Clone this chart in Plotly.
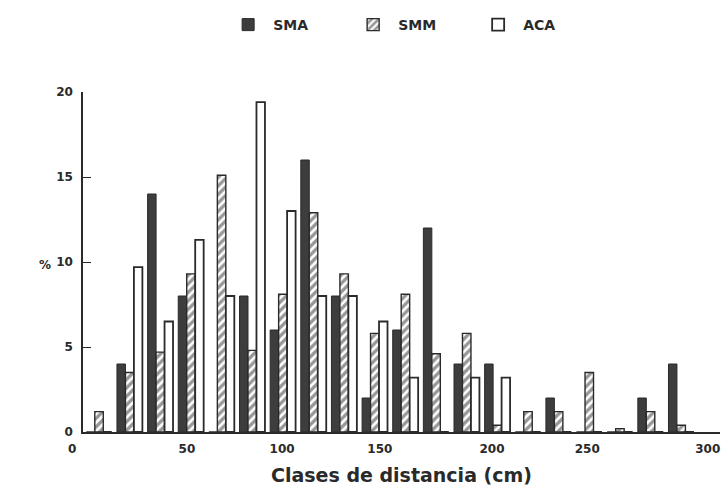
import plotly.graph_objects as go

# class centres (cm), 15 cm distance classes
clases = [15, 30, 45, 60, 75, 90, 105, 120, 135, 150,
          165, 180, 195, 210, 225, 240, 255, 270, 285, 300]

sma = [0, 4, 14, 8, 0, 8, 6, 16, 8, 2, 6, 12, 4, 4, 0, 2, 0, 0, 2, 4]
smm = [1.2, 3.5, 4.7, 9.3, 15.1, 4.8, 8.1, 12.9, 9.3, 5.8, 8.1, 4.6, 5.8, 0.4, 1.2, 1.2, 3.5, 0.2, 1.2, 0.4]
aca = [0, 9.7, 6.5, 11.3, 8, 19.4, 13, 8, 8, 6.5, 3.2, 0, 3.2, 3.2, 0, 0, 0, 0, 0, 0]

tick_vals = [58, 104.6, 152.5, 207.4, 254, 313]
tick_text = ["50", "100", "150", "200", "250", "300"]

FONT = "DejaVu Sans"
INK = "#2a2a2a"

fig = go.Figure()
fig.add_bar(x=clases, y=sma, name="SMA",
            marker=dict(color="#3d3d3d", line=dict(color=INK, width=1)))
fig.add_bar(x=clases, y=smm, name="SMM",
            marker=dict(color="white", line=dict(color=INK, width=1.4),
                        pattern=dict(shape="/", fgcolor="#2f2f2f", bgcolor="white",
                                     size=6, solidity=0.55)))
fig.add_bar(x=clases, y=aca, name="ACA",
            marker=dict(color="white", line=dict(color=INK, width=1.8)))

fig.update_layout(
    width=724, height=491,
    margin=dict(l=83, r=4, t=92, b=59),
    paper_bgcolor="white", plot_bgcolor="white",
    barmode="group", bargap=0.17, bargroupgap=0,
    font=dict(family=FONT, size=13, color=INK),
    showlegend=True,
    legend=dict(orientation="h", x=0.22, xanchor="left", y=1.197, yanchor="middle",
                font=dict(family=FONT, size=14, color=INK, weight="bold"),
                itemwidth=40, entrywidth=70, traceorder="normal"),
    xaxis=dict(range=[7.15, 319], showgrid=False, zeroline=False,
               showline=True, linecolor=INK, linewidth=1.5,
               tickmode="array", tickvals=tick_vals, ticktext=tick_text,
               ticks="", ticklabelstandoff=5,
               tickfont=dict(family=FONT, size=12, weight="bold", color=INK),
               title=dict(text="Clases de distancia (cm)", standoff=14,
                          font=dict(family=FONT, size=19, weight="bold", color=INK))),
    yaxis=dict(range=[0, 20], showgrid=False, zeroline=False,
               showline=True, linecolor=INK, linewidth=1.5,
               tickmode="array", tickvals=[0, 5, 10, 15, 20],
               ticks="inside", ticklen=8, tickcolor=INK, tickwidth=1.2,
               ticklabelstandoff=6,
               tickfont=dict(family=FONT, size=12, weight="bold", color=INK)),
)

fig.add_annotation(text="0", xref="paper", yref="paper", x=-0.017, y=-0.025,
                   xanchor="center", yanchor="top", showarrow=False,
                   font=dict(family=FONT, size=12, weight="bold", color=INK))
fig.add_annotation(text="%", xref="paper", yref="paper", x=-0.06, y=0.49,
                   xanchor="center", yanchor="middle", showarrow=False,
                   font=dict(family=FONT, size=12, weight="bold", color=INK))

fig.write_html("out.html", config={"displayModeBar": False},
               post_script="document.body.style.margin='0';")
